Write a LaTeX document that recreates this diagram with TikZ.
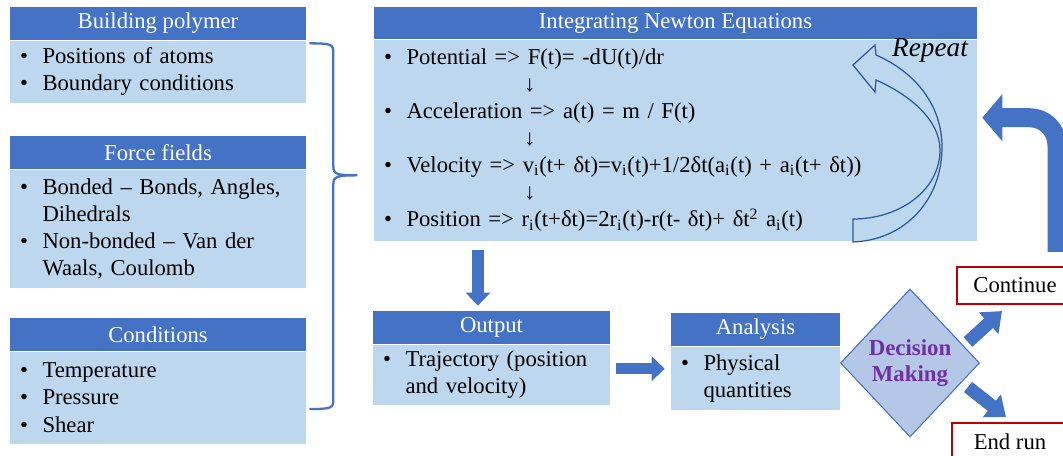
\documentclass[tikz,border=0pt]{standalone}
\usepackage{fontspec}
\setmainfont{Liberation Serif}
\usetikzlibrary{positioning,arrows.meta,shapes.geometric,calc}
\definecolor{hdblue}{RGB}{68,114,196}
\definecolor{bdblue}{RGB}{189,215,238}
\definecolor{dmfill}{RGB}{180,199,231}
\definecolor{dmpurple}{RGB}{112,48,160}
\definecolor{stopred}{RGB}{192,0,0}
\definecolor{lineblue}{RGB}{47,85,151}
\newcommand{\bitem}{\makebox[0.45cm][l]{\textbullet}}
\newcommand{\bcont}{\hspace*{0.45cm}}

\begin{document}
\begin{tikzpicture}[x=0.02cm,y=-0.02cm,
                font={\fontsize{12.9}{15.4}\selectfont},
                head/.style={rectangle,fill=hdblue,text=white,
                             minimum height=0.66cm,inner sep=0pt},
                body/.style={rectangle,fill=bdblue,align=left,
                             inner xsep=0.2cm,inner ysep=0pt},
                stopbox/.style={rectangle,draw=stopred,line width=1.2pt,fill=white,
                                minimum width=2.32cm,minimum height=0.74cm},
                blockarr/.style={hdblue,line width=0.23cm,
                                 -{Triangle[length=0.26cm,width=0.48cm]}},
                diagarr/.style={hdblue,line width=0.26cm,
                                -{Triangle[length=0.36cm,width=0.56cm]}}]
                \useasboundingbox (0,0) rectangle (1063,456);
                \clip (0,0) rectangle (1063,456);
                \fill[white] (0,0) rectangle (1063,456);
                % left column
                \node[head,minimum width=5.92cm] (bphead) at (158,23.5) {Building polymer};
                \node[body,text width=5.52cm,minimum height=1.24cm,below=0pt of bphead]
                      (bpbody) {\bitem Positions of atoms\\ \bitem Boundary conditions};
                \node[head,minimum width=5.92cm] (ffhead) at (158,152.5) {Force fields};
                \node[body,text width=5.52cm,minimum height=2.36cm,below=0pt of ffhead]
                      (ffbody) {\bitem Bonded – Bonds, Angles,\\ \bcont Dihedrals\\
                                \bitem Non-bonded – Van der\\ \bcont Waals, Coulomb};
                \node[head,minimum width=5.92cm] (cdhead) at (158,334.5) {Conditions};
                \node[body,text width=5.52cm,minimum height=1.84cm,below=0pt of cdhead]
                      (cdbody) {\bitem Temperature\\ \bitem Pressure\\ \bitem Shear};
                % brace
                \coordinate (bracetop) at ($(bpbody.north east)+(3,3)$);
                \coordinate (bracebot) at ($(cdbody.south east)+(3,-35)$);
                \coordinate (bracetip) at ($(bracetop)+(48,132)$);
                \draw[hdblue,line width=1.3pt]
                      (bracetop) .. controls +(22,0) and +(0,-8) .. ($(bracetop)+(24,9)$)
                      -- ($(bracetip)+(-24,-9)$) .. controls +(0,8) and +(-20,0) .. (bracetip)
                      .. controls +(-20,0) and +(0,-8) .. ($(bracetip)+(-24,9)$)
                      -- ($(bracebot)+(24,-9)$) .. controls +(0,8) and +(22,0) .. (bracebot);
                % integration box
                \node[head,minimum width=12.06cm,minimum height=0.64cm] (nthead) at (675.5,23)
                      {Integrating Newton Equations};
                \node[body,text width=11.66cm,minimum height=4.02cm,below=0pt of nthead]
                      (ntbody) {\bitem Potential => F(t)= -dU(t)/dr\\
                                \hspace*{2.8cm}↓\\
                                \bitem Acceleration => a(t) = m / F(t)\\
                                \hspace*{2.8cm}↓\\
                                \bitem Velocity => v\textsubscript{i}(t+ δt)=v\textsubscript{i}(t)+1/2δt(a\textsubscript{i}(t) + a\textsubscript{i}(t+ δt))\\
                                \hspace*{2.8cm}↓\\
                                \bitem Position => r\textsubscript{i}(t+δt)=2r\textsubscript{i}(t)-r(t- δt)+ δt\textsuperscript{2} a\textsubscript{i}(t)};
                \node[font={\fontsize{15.5}{18}\selectfont\itshape}] (replabel) at (930,50) {Repeat};
                \draw[lineblue,line width=0.7pt]
                      (853,242) .. controls (905,240) and (942,200) .. (942,147)
                      .. controls (942,105) and (915,72) .. (876,55)
                      -- (875,45) -- (853,65) -- (875,92) -- (876,80)
                      .. controls (910,95) and (940,120) .. (940,150)
                      .. controls (940,190) and (900,219) .. (853,219) -- cycle;
                % output and analysis
                \node[head,minimum width=4.74cm] (othead) at (491.5,327.5) {Output};
                \node[body,text width=4.34cm,minimum height=1.2cm,below=0pt of othead]
                      (otbody) {\bitem Trajectory (position\\ \bcont and velocity)};
                \node[head,minimum width=3.38cm] (anhead) at (755.5,329.5) {Analysis};
                \node[body,text width=2.98cm,minimum height=1.26cm,below=0pt of anhead]
                      (anbody) {\bitem Physical\\ \bcont quantities};
                \node[diamond,draw=hdblue,line width=0.6pt,fill=dmfill,text=dmpurple,
                      font={\fontsize{13}{14.8}\selectfont\bfseries},align=center,
                      minimum width=2.78cm,minimum height=2.96cm,inner sep=0pt]
                      (decide) at (910,363) {Decision\\Making};
                \node[stopbox] (cont)   at (1015,285.5) {Continue};
                \node[stopbox] (endrun) at (1010,441.5) {End run};
                \coordinate (loopstart) at ($(cont.north)+(42,-14)$);
                \coordinate (loopend)   at ($(ntbody.east)+(5,-22.5)$);
                \draw[blockarr] ($(othead.north |- ntbody.south)+(-13.5,9)$)
                      -- ($(othead.north)+(-13.5,-5)$);
                \draw[blockarr] ($(otbody.east)+(6,-6)$) -- ($(otbody.east -| anbody.west)+(-6,-6)$);
                \draw[diagarr] ($(decide.center)+(58,-21)$) -- ($(cont.south west)+(46,6)$);
                \draw[diagarr] ($(decide.center)+(58,24)$) -- ($(endrun.north west)+(55,-5)$);
                \draw[hdblue,line width=0.38cm,rounded corners=0.55cm,
                      -{Triangle[length=0.4cm,width=0.92cm]}] (loopstart) |- (loopend);
            \end{tikzpicture}
\end{document}
